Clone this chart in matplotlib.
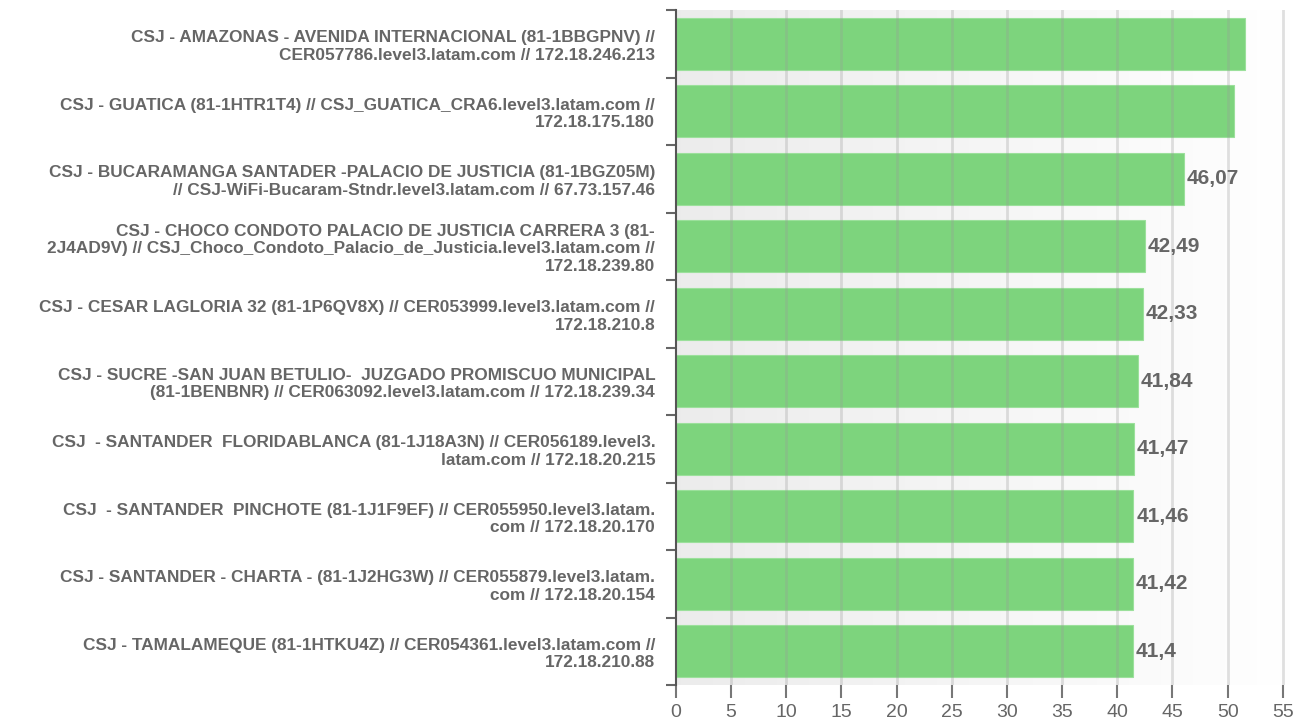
import matplotlib
matplotlib.use("Agg")
import matplotlib.pyplot as plt
import numpy as np

labels = [
    "CSJ - AMAZONAS - AVENIDA INTERNACIONAL (81-1BBGPNV) //\nCER057786.level3.latam.com // 172.18.246.213",
    "CSJ - GUATICA (81-1HTR1T4) // CSJ_GUATICA_CRA6.level3.latam.com //\n172.18.175.180",
    "CSJ - BUCARAMANGA SANTADER -PALACIO DE JUSTICIA (81-1BGZ05M)\n// CSJ-WiFi-Bucaram-Stndr.level3.latam.com // 67.73.157.46",
    "CSJ - CHOCO CONDOTO PALACIO DE JUSTICIA CARRERA 3 (81-\n2J4AD9V) // CSJ_Choco_Condoto_Palacio_de_Justicia.level3.latam.com //\n172.18.239.80",
    "CSJ - CESAR LAGLORIA 32 (81-1P6QV8X) // CER053999.level3.latam.com //\n172.18.210.8",
    "CSJ - SUCRE -SAN JUAN BETULIO-  JUZGADO PROMISCUO MUNICIPAL\n(81-1BENBNR) // CER063092.level3.latam.com // 172.18.239.34",
    "CSJ  - SANTANDER  FLORIDABLANCA (81-1J18A3N) // CER056189.level3.\nlatam.com // 172.18.20.215",
    "CSJ  - SANTANDER  PINCHOTE (81-1J1F9EF) // CER055950.level3.latam.\ncom // 172.18.20.170",
    "CSJ - SANTANDER - CHARTA - (81-1J2HG3W) // CER055879.level3.latam.\ncom // 172.18.20.154",
    "CSJ - TAMALAMEQUE (81-1HTKU4Z) // CER054361.level3.latam.com //\n172.18.210.88",
]
values = [51.6, 50.55, 46.07, 42.49, 42.33, 41.84, 41.47, 41.46, 41.42, 41.4]
value_labels = ["", "", "46,07", "42,49", "42,33", "41,84", "41,47", "41,46", "41,42", "41,4"]
xticks = [0, 5, 10, 15, 20, 25, 30, 35, 40, 45, 50, 55]

plt.rcParams['font.family'] = ['Liberation Sans', 'DejaVu Sans']

fig = plt.figure(figsize=(13.05, 7.25), dpi=100)
ax = fig.add_axes([676/1305, 1 - 685/725, (1290-676)/1305, (685-10)/725])

n = len(values)
xmax = 55.65
ax.set_xlim(0, xmax)
ax.set_ylim(n - 0.5, -0.5)

# gradient background
grad = np.linspace(0.925, 1.0, 256).reshape(1, -1)
ax.imshow(np.dstack([grad, grad, grad]), extent=[0, xmax, n - 0.5, -0.5],
          aspect='auto', zorder=0, interpolation='bicubic')

y = np.arange(n)
ax.barh(y, values, height=0.77, color="#7dd47d", edgecolor="#9be09b",
        linewidth=0.8, zorder=2)

for xv in xticks[1:]:
    ax.axvline(xv, color="#9a9a9a", alpha=0.3, linewidth=2, zorder=3)

for yi, v, t in zip(y, values, value_labels):
    if t:
        ax.text(v + 0.25, yi, t, va='center', ha='left', fontsize=15,
                color="#666666", fontweight='bold', zorder=4)

ax.set_yticks(y)
ax.set_yticklabels(labels, fontsize=12.4, fontweight='bold', color="#666666",
                   linespacing=1.2)
ax.set_yticks(np.arange(n + 1) - 0.5, minor=True)
ax.tick_params(axis='y', which='major', length=0, pad=15)
ax.tick_params(axis='y', which='minor', length=7, width=1.5, color="#666666")

ax.set_xticks(xticks)
ax.set_xticklabels([str(t) for t in xticks], fontsize=14, color="#666666")
ax.tick_params(axis='x', length=9, width=1.5, color="#777777", pad=5,
               direction='out')

for s in ['top', 'right', 'bottom']:
    ax.spines[s].set_visible(False)
ax.spines['left'].set_color("#555555")
ax.spines['left'].set_linewidth(1.5)
ax.spines['left'].set_zorder(5)

fig.savefig("out.png", dpi=100)
